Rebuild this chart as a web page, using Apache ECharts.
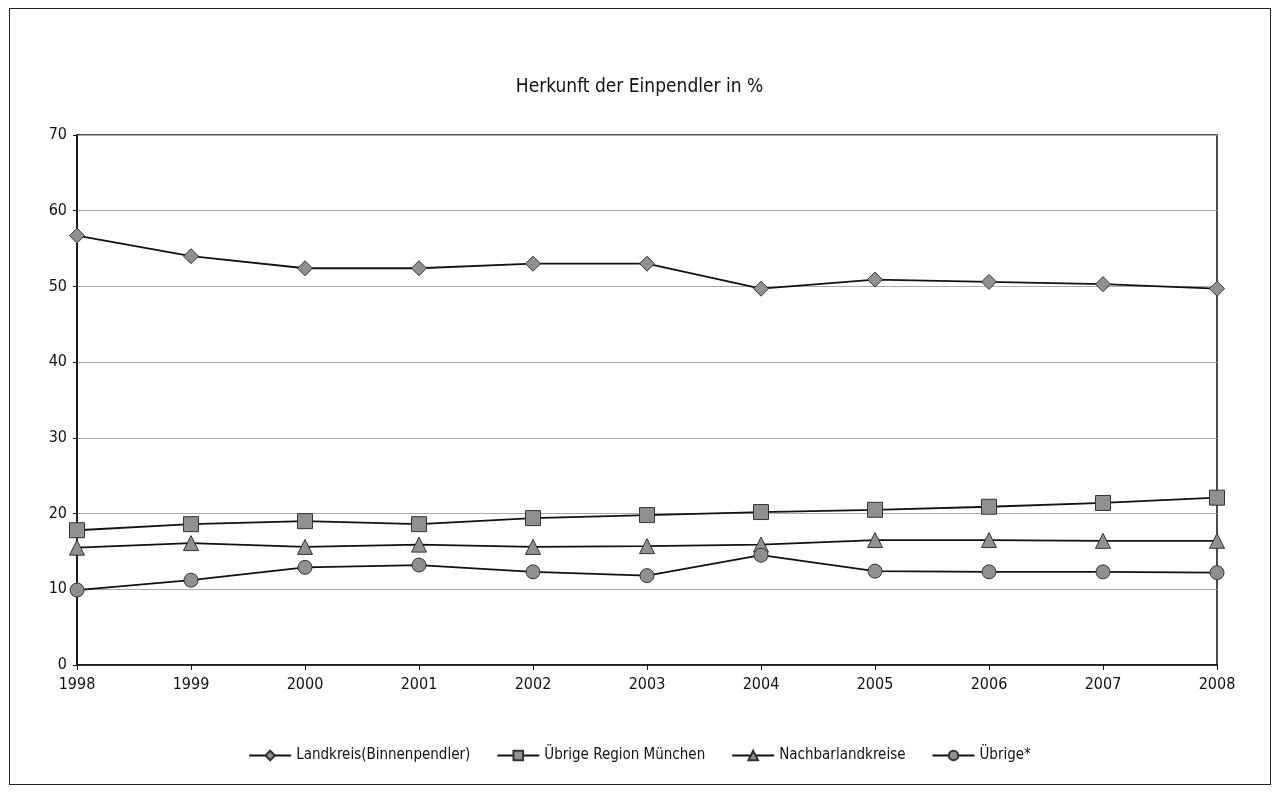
<!DOCTYPE html>
<html>
<head>
<meta charset="utf-8">
<script src="https://cdn.jsdelivr.net/npm/echarts@6/dist/echarts.min.js"></script>
<style>
    html, body { margin: 0; padding: 0; background: #fff; }
    #frame { position: absolute; left: 9px; top: 8px; width: 1262px; height: 777px; border: 1px solid #222; box-sizing: border-box; }
    #chart { position: absolute; left: 0; top: 0; width: 1279px; height: 792px; }
</style>
</head>
<body>
<div id="frame"></div>
<div id="chart"></div>
<script>
    const years = ['1998', '1999', '2000', '2001', '2002', '2003', '2004', '2005', '2006', '2007', '2008'];
    const landkreis = [56.7, 54.0, 52.4, 52.4, 53.0, 53.0, 49.7, 50.9, 50.6, 50.3, 49.7];
    const uebrigeRegion = [17.8, 18.6, 19.0, 18.6, 19.4, 19.8, 20.2, 20.5, 20.9, 21.4, 22.1];
    const nachbar = [15.5, 16.1, 15.6, 15.9, 15.6, 15.7, 15.9, 16.5, 16.5, 16.4, 16.4];
    const uebrige = [9.9, 11.2, 12.9, 13.2, 12.3, 11.8, 14.5, 12.4, 12.3, 12.3, 12.2];
    const names = ['Landkreis(Binnenpendler)', 'Übrige Region München', 'Nachbarlandkreise', 'Übrige*'];

    const font = "'DejaVu Sans Condensed', 'Liberation Sans Narrow', sans-serif";
    let chart = echarts.init(document.getElementById('chart'));

    function mkSeries(name, data, symbol, size) {
        return {
            name: name, type: 'line', data: data,
            symbol: symbol, symbolSize: size,
            lineStyle: { color: '#111', width: 1.8 },
            itemStyle: { color: '#909090', borderColor: '#333', borderWidth: 1 },
            animation: false
        }
    }

    let option = {
        title: {
            text: 'Herkunft der Einpendler in %',
            left: 'center', top: 73,
            textStyle: { fontFamily: font, fontSize: 19, fontWeight: 'normal', color: '#111' }
        },
        legend: {
            bottom: 24, left: 'center',
            itemWidth: 42, itemHeight: 12, itemGap: 26,
            textStyle: { fontFamily: font, fontSize: 15, color: '#111' },
            data: names
        },
        grid: { left: 77, right: 62, top: 135, bottom: 127, containLabel: false, show: true, borderColor: '#111', borderWidth: 1.5 },
        xAxis: {
            type: 'category', data: years, boundaryGap: false,
            axisLine: { lineStyle: { color: '#111', width: 1.5 } },
            axisTick: { show: true, length: 5, lineStyle: { color: '#111' } },
            axisLabel: { fontFamily: font, fontSize: 16, color: '#111', margin: 12 }
        },
        yAxis: {
            type: 'value', min: 0, max: 70, interval: 10,
            axisLine: { show: true, lineStyle: { color: '#111', width: 1.5 } },
            axisTick: { show: true, length: 4, lineStyle: { color: '#111' } },
            axisLabel: { fontFamily: font, fontSize: 16, color: '#111', margin: 10 },
            splitLine: { lineStyle: { color: '#aaa', width: 1.2 } }
        },
        series: [
            mkSeries(names[0], landkreis, 'diamond', 15),
            mkSeries(names[1], uebrigeRegion, 'rect', 15),
            mkSeries(names[2], nachbar, 'triangle', 15),
            mkSeries(names[3], uebrige, 'circle', 14)
        ]
    };
    chart.setOption(option);
</script>
</body>
</html>
